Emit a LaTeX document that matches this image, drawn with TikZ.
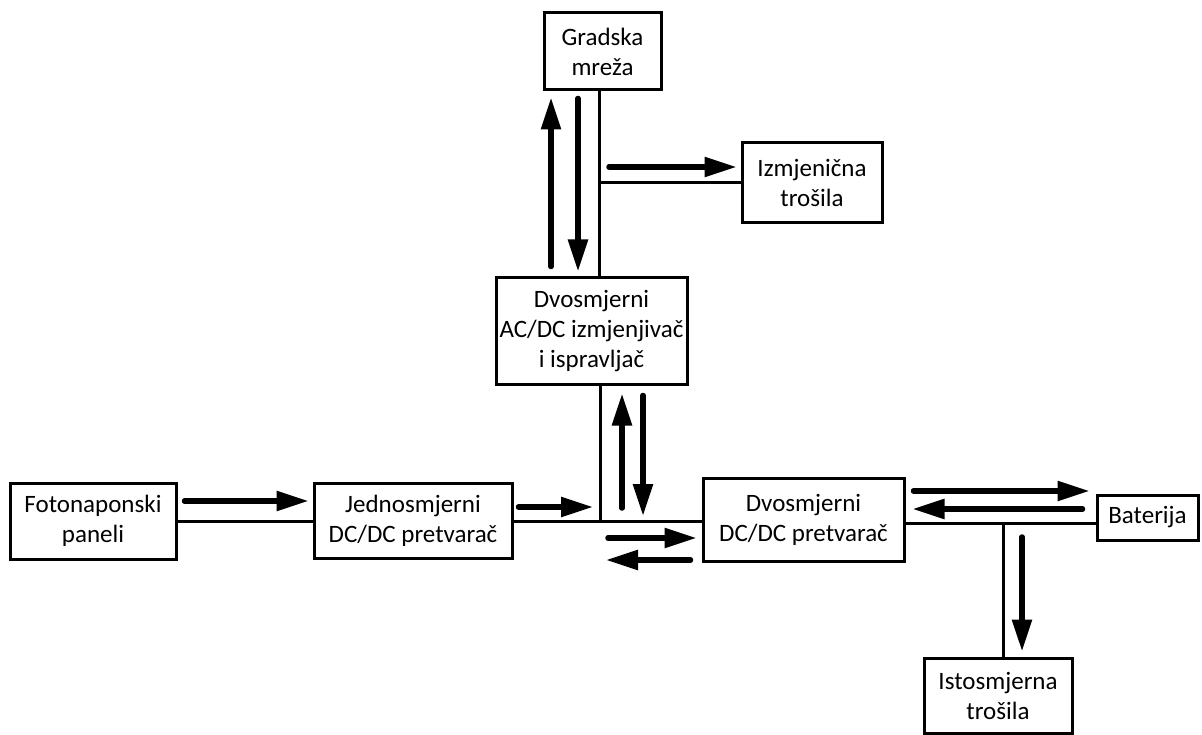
\documentclass[tikz,border=0pt]{standalone}
\usepackage{fontspec}
\setmainfont{Carlito}
\usepackage{tikz}
\usetikzlibrary{arrows.meta}

\begin{document}
\begin{tikzpicture}[x=1pt, y=-1pt,
  every node/.style={font=\fontsize{25}{30}\selectfont},
  box/.style={draw, line width=3pt, align=center, inner sep=0pt},
  wire/.style={line width=3pt},
  flow/.style={line width=5.5pt, line cap=round, -{Triangle[length=32pt, width=19pt]}}]
  \useasboundingbox (0,0) rectangle (1202,735);
  % boxes
  \node[box, minimum width=117, minimum height=77] (gm) at (602.5,51.5) {Gradska\\mreža};
  \node[box, minimum width=140, minimum height=80] (ac) at (812,183) {Izmjenična\\trošila};
  \node[box, minimum width=191, minimum height=106] (acdc) at (591.5,331) {Dvosmjerni\\AC/DC izmjenjivač\\i ispravljač};
  \node[box, minimum width=166, minimum height=76] (fn) at (93,521) {Fotonaponski\\paneli};
  \node[box, minimum width=198, minimum height=75] (jdc) at (413,520.5) {Jednosmjerni\\DC/DC pretvarač};
  \node[box, minimum width=201, minimum height=83] (ddc) at (803.5,519.5) {Dvosmjerni\\DC/DC pretvarač};
  \node[box, minimum width=101, minimum height=45] (bat) at (1147.5,517.5) {Baterija};
  \node[box, minimum width=148, minimum height=75] (ist) at (998,695.5) {Istosmjerna\\trošila};
  % junctions and arrow lanes
  \coordinate (j1) at (599,183);
  \coordinate (j2) at (600,521);
  \coordinate (j3) at (1003,523);
  \coordinate (l1) at (551,0);
  \coordinate (l2) at (578,0);
  \coordinate (l3) at (622,0);
  \coordinate (l4) at (643,0);
  \coordinate (l5) at (1022,0);
  \coordinate (r1) at (0,167);
  \coordinate (r2) at (0,501);
  \coordinate (r3) at (0,507);
  \coordinate (r4) at (0,538);
  \coordinate (r5) at (0,560);
  \coordinate (r6) at (0,491);
  \coordinate (r7) at (0,509);
  % wires
  \draw[wire] (gm.south -| j1) -- (acdc.north -| j1);
  \draw[wire] (j1) -- (ac.west |- j1);
  \draw[wire] (fn.east |- j2) -- (jdc.west |- j2);
  \draw[wire] (acdc.south -| j2) -- (j2);
  \draw[wire] (jdc.east |- j2) -- (ddc.west |- j2);
  \draw[wire] (ddc.east |- j3) -- (bat.west |- j3);
  \draw[wire] (j3) -- (ist.north -| j3);
  % power flow
  \draw[flow, shorten <=10pt, shorten >=6pt] (acdc.north -| l1) -- (gm.south -| l1);
  \draw[flow, shorten <=7pt, shorten >=5pt] (gm.south -| l2) -- (acdc.north -| l2);
  \draw[flow, shorten <=10pt, shorten >=4pt] (j1 |- r1) -- (ac.west |- r1);
  \draw[flow, shorten <=7pt, shorten >=4pt] (fn.east |- r2) -- (jdc.west |- r2);
  \draw[flow, shorten <=5pt, shorten >=7pt] (jdc.east |- r3) -- (j2 |- r3);
  \draw[flow, shorten <=13pt, shorten >=8pt] (j2 -| l3) -- (acdc.south -| l3);
  \draw[flow, shorten <=10pt, shorten >=5pt] (acdc.south -| l4) -- (j2 -| l4);
  \draw[flow, shorten <=8pt, shorten >=5pt] (j2 |- r4) -- (ddc.west |- r4);
  \draw[flow, shorten <=11pt, shorten >=6pt] (ddc.west |- r5) -- (j2 |- r5);
  \draw[flow, shorten <=8pt, shorten >=6pt] (ddc.east |- r6) -- (bat.west |- r6);
  \draw[flow, shorten <=13pt, shorten >=7pt] (bat.west |- r7) -- (ddc.east |- r7);
  \draw[flow, shorten <=14pt, shorten >=5pt] (j3 -| l5) -- (ist.north -| l5);
\end{tikzpicture}
\end{document}
